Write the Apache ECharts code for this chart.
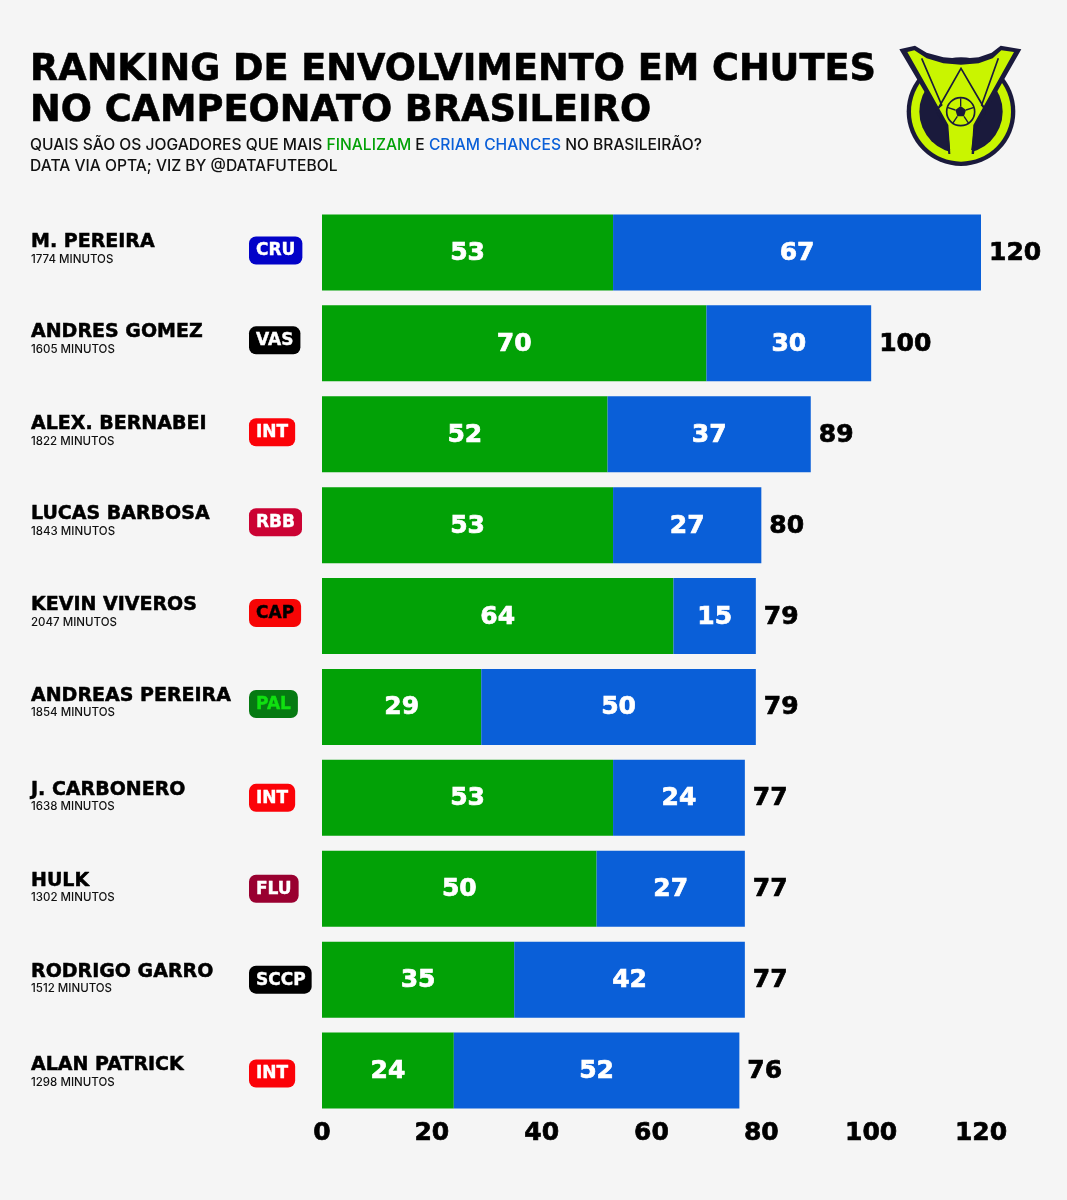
<!DOCTYPE html>
<html><head><meta charset="utf-8">
<style>html,body{margin:0;padding:0;background:#f5f5f5}#c{width:1067px;height:1200px}</style>
<script src="https://cdn.jsdelivr.net/npm/echarts@6/dist/echarts.min.js"></script>
</head><body><div id="c"></div>
<script>
const players=['M. PEREIRA','ANDRES GOMEZ','ALEX. BERNABEI','LUCAS BARBOSA','KEVIN VIVEROS','ANDREAS PEREIRA','J. CARBONERO','HULK','RODRIGO GARRO','ALAN PATRICK'];
const minutes=[1774,1605,1822,1843,2047,1854,1638,1302,1512,1298];
const clubs=['CRU','VAS','INT','RBB','CAP','PAL','INT','FLU','SCCP','INT'];
const finalizam=[53,70,52,53,64,29,53,50,35,24];
const criam=[67,30,37,27,15,50,24,27,42,52];
const totals=[120,100,89,80,79,79,77,77,77,76];
const clubBg={CRU:'#0202c8',VAS:'#000000',INT:'#fb0208',RBB:'#cb0233',CAP:'#f70505',PAL:'#067a12',FLU:'#990030',SCCP:'#000000'};
const clubFg={CRU:'#ffffff',VAS:'#ffffff',INT:'#ffffff',RBB:'#ffffff',CAP:'#000000',PAL:'#10e010',FLU:'#ffffff',SCCP:'#ffffff'};
const rowNudge=[4,6,4,6,6,6,0,0,0,-6];
const F='"DejaVu Sans", sans-serif', M='Inter, "Noto Sans", sans-serif';
const GREEN='#02a106',BLUE='#0a5fd8',LIME='#c9f500',NAVY='#1a1a3c';
const chart=echarts.init(document.getElementById('c'),null,{renderer:'canvas'});
const badgeRich={};
Object.keys(clubBg).forEach(k=>{badgeRich[k]={backgroundColor:clubBg[k],color:clubFg[k],fontFamily:F,fontWeight:'bold',fontSize:17,textBorderColor:clubFg[k],textBorderWidth:0.4,borderRadius:7,padding:[6,k==='SCCP'?6:7,5,7]};});
const spacer={};[4,6].forEach(h=>{spacer['up'+h]={fontSize:1,lineHeight:h,color:'transparent'};spacer['dn'+h]={fontSize:1,lineHeight:h,color:'transparent'};});
Object.assign(badgeRich,spacer);
function badge(v,i){const n=rowNudge[i],t=`{${v}|${v}}`;return n>0?`${t}\n{up${n}| }`:n<0?`{dn${-n}| }\n${t}`:t;}
function vs(){return {show:true,position:'inside',offset:[0,1],color:'#fff',fontFamily:F,fontWeight:'bold',fontSize:25,textBorderColor:'#fff',textBorderWidth:0.7};}
function nameLabel(v,i){const n=rowNudge[i],t=`{n|${v}}\n{m|${minutes[i]} MINUTOS}`;return n>0?`${t}\n{up${n}| }`:n<0?`{dn${-n}| }\n${t}`:t;}
const poly=(points,fill)=>({type:'polygon',shape:{points},style:{fill}});
const line=(points,w)=>({type:'polyline',shape:{points},style:{fill:'none',stroke:NAVY,lineWidth:w||5}});
chart.setOption({
 animation:false,backgroundColor:'#f5f5f5',
 title:{text:'RANKING DE ENVOLVIMENTO EM CHUTES\nNO CAMPEONATO BRASILEIRO',left:25,top:45,
  textStyle:{fontFamily:F,fontWeight:'bold',fontSize:36.7,lineHeight:41,color:'#000',textBorderColor:'#000',textBorderWidth:0.6},
  subtext:'{k|QUAIS SÃO OS JOGADORES QUE MAIS }{g|FINALIZAM}{k| E }{b|CRIAM CHANCES}{k| NO BRASILEIRÃO?}\n{k|DATA VIA OPTA; VIZ BY @DATAFUTEBOL}',
  itemGap:3,
  subtextStyle:{lineHeight:21,rich:{k:{fontFamily:M,fontSize:15.6,fontWeight:500,color:'#111'},g:{fontFamily:M,fontSize:15.6,fontWeight:500,color:GREEN},b:{fontFamily:M,fontSize:15.6,fontWeight:500,color:BLUE}}}},
 grid:{left:322,top:207,width:659,height:909,containLabel:false},
 xAxis:{type:'value',min:0,max:120,interval:20,splitLine:{show:false},axisLine:{show:false},axisTick:{show:false},
  axisLabel:{fontFamily:F,fontWeight:'bold',fontSize:25,color:'#000',margin:5,textBorderColor:'#000',textBorderWidth:0.7}},
 yAxis:[
  {type:'category',inverse:true,data:players,axisLine:{show:false},axisTick:{show:false},
   axisLabel:{margin:291,align:'left',formatter:nameLabel,
    rich:Object.assign({n:{fontFamily:F,fontWeight:'bold',fontSize:19,color:'#000',lineHeight:18,textBorderColor:'#000',textBorderWidth:0.5},m:{fontFamily:M,fontWeight:500,fontSize:11.5,color:'#111',lineHeight:16}},spacer)}},
  {type:'category',inverse:true,position:'left',data:clubs,axisLine:{show:false},axisTick:{show:false},
   axisLabel:{margin:73,align:'left',formatter:badge,rich:badgeRich}}
 ],
 series:[
  {name:'Finalizam',type:'bar',stack:'t',barWidth:76,data:finalizam,itemStyle:{color:GREEN},label:vs()},
  {name:'Criam',type:'bar',stack:'t',barWidth:76,data:criam,itemStyle:{color:BLUE},label:vs()},
  {name:'Total',type:'bar',stack:'t',barWidth:76,data:totals.map(()=>0),itemStyle:{color:'transparent'},
   label:{show:true,position:'right',distance:8,offset:[0,1],formatter:p=>totals[p.dataIndex],color:'#000',fontFamily:F,fontWeight:'bold',fontSize:25,textBorderColor:'#000',textBorderWidth:0.7}}
 ],
 graphic:[{type:'group',x:880,y:30,scaleX:1/3,scaleY:1/3,silent:true,children:[
  {type:'circle',shape:{cx:243,cy:245,r:163},style:{fill:NAVY}},
  {type:'circle',shape:{cx:243,cy:245,r:150},style:{fill:LIME}},
  {type:'circle',shape:{cx:243,cy:245,r:125},style:{fill:NAVY}},
  poly([[58,58],[105,47],[140,68],[190,82],[243,86],[296,82],[335,68],[362,47],[424,58],[340,205],[290,290],[282,372],[205,372],[195,290],[145,205]],NAVY),
  poly([[82,66],[103,61],[140,85],[190,100],[243,104],[296,100],[338,85],[364,61],[402,66],[330,195],[280,285],[274,385],[212,385],[205,285],[155,195]],LIME),
  line([[125,85],[185,225],[168,240]]),
  line([[355,85],[305,225],[318,240]]),
  line([[172,240],[243,115],[316,240]]),
  line([[172,248],[200,290],[208,360]]),
  line([[316,248],[285,290],[276,360]]),
  {type:'circle',shape:{cx:242,cy:245,r:42},style:{fill:LIME,stroke:NAVY,lineWidth:5}},
  poly([[242,228],[258,240],[252,259],[232,259],[226,240]],NAVY),
  line([[242,205],[242,228]],4),line([[258,240],[282,232]],4),line([[252,259],[266,280]],4),line([[232,259],[218,280]],4),line([[226,240],[202,232]],4)
 ]}]
});
</script></body></html>
